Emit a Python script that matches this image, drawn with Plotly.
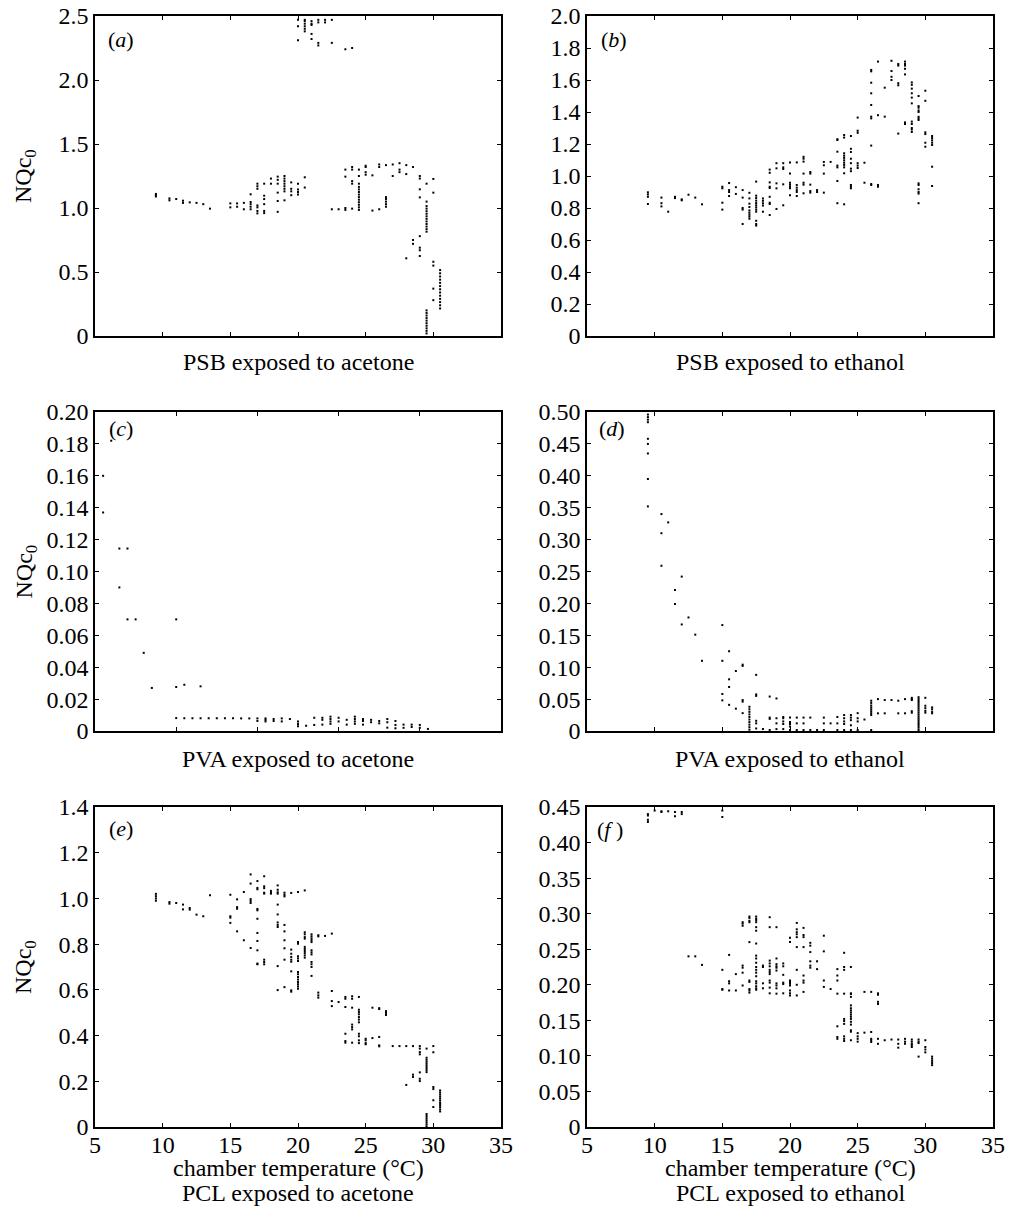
import plotly.graph_objects as go

# ---------------------------------------------------------------------------
# Measured NQc0 against chamber temperature (deg C), one list of
# (temperature, [NQc0 values]) columns per polymer / solvent pair.
# ---------------------------------------------------------------------------
PSB_ACETONE = [
    (9.5, [1.09, 1.10, 1.11]),
    (10.5, [1.06, 1.075]),
    (11.0, [1.07]),
    (11.5, [1.04, 1.057]),
    (12.0, [1.044]),
    (12.5, [1.04]),
    (13.0, [1.03]),
    (13.5, [0.995]),
    (15.0, [1.005, 1.036]),
    (15.5, [1.01, 1.036]),
    (16.0, [0.99, 1.04]),
    (16.5, [0.99, 1.01, 1.03, 1.047, 1.107]),
    (17.0, [0.958, 0.977, 1.005, 1.02, 1.15, 1.17, 1.19]),
    (17.5, [0.96, 0.977, 1.03, 1.07, 1.096, 1.19]),
    (18.0, [1.19, 1.23]),
    (18.5, [0.97, 1.055, 1.12, 1.19, 1.22, 1.245]),
    (19.0, [1.06, 1.13, 1.15, 1.17, 1.19, 1.21, 1.23, 1.25]),
    (19.5, [1.10, 1.13, 1.15, 1.20]),
    (20.0, [1.105, 1.125, 1.145, 1.19, 2.31, 2.42, 2.47]),
    (20.5, [1.16, 1.24, 2.38, 2.40, 2.42, 2.44, 2.46, 2.47]),
    (21.0, [2.32, 2.36, 2.43, 2.44, 2.46]),
    (21.5, [2.27, 2.29, 2.45, 2.47]),
    (22.0, [2.45, 2.47]),
    (22.5, [0.99, 2.29, 2.47]),
    (23.0, [0.99]),
    (23.5, [0.985, 1.0, 1.245, 1.30, 2.24]),
    (24.0, [0.995, 1.19, 1.21, 1.30, 1.32, 2.25]),
    (24.5, [0.985, 1.005, 1.025, 1.045, 1.065, 1.085, 1.105, 1.125, 1.145,
            1.165, 1.19, 1.25, 1.30]),
    (25.0, [1.26, 1.28, 1.32, 1.33]),
    (25.5, [0.98, 1.255]),
    (26.0, [0.99, 1.32, 1.34]),
    (26.5, [1.01, 1.03, 1.05, 1.07, 1.085, 1.335]),
    (27.0, [1.25, 1.34]),
    (27.5, [1.28, 1.30, 1.35]),
    (28.0, [0.607, 1.265, 1.335]),
    (28.5, [0.72, 0.75, 1.32]),
    (29.0, [0.625, 0.67, 0.69, 0.78, 1.083, 1.146, 1.23, 1.25]),
    (29.5, [0.02, 0.04, 0.06, 0.08, 0.10, 0.12, 0.14, 0.16, 0.18, 0.20,
            0.815, 0.835, 0.855, 0.875, 0.895, 0.915, 0.935, 0.955, 0.975,
            0.995, 1.015, 1.05, 1.19]),
    (30.0, [0.28, 0.37, 0.55, 0.58, 1.12, 1.227]),
    (30.5, [0.215, 0.24, 0.265, 0.29, 0.315, 0.34, 0.365, 0.39, 0.415,
            0.44, 0.465, 0.49, 0.515]),
]

PSB_ETHANOL = [
    (9.5, [0.825, 0.87, 0.885, 0.898]),
    (10.5, [0.81, 0.83, 0.865]),
    (11.0, [0.777]),
    (11.5, [0.862, 0.87]),
    (12.0, [0.848, 0.854]),
    (12.5, [0.883]),
    (13.0, [0.865]),
    (13.5, [0.823]),
    (15.0, [0.79, 0.833, 0.923, 0.933]),
    (15.5, [0.875, 0.90, 0.912, 0.956]),
    (16.0, [0.888, 0.93]),
    (16.5, [0.70, 0.79, 0.80, 0.865, 0.912]),
    (17.0, [0.733, 0.746, 0.758, 0.771, 0.785, 0.806, 0.827, 0.86, 0.895]),
    (17.5, [0.69, 0.70, 0.72, 0.777, 0.79, 0.804, 0.817, 0.831, 0.846,
            0.862, 0.877, 0.965]),
    (18.0, [0.777, 0.815, 0.83, 0.845, 0.86]),
    (18.5, [0.756, 0.825, 0.833, 0.87, 0.925, 0.933, 0.96, 1.02, 1.04]),
    (19.0, [0.794, 0.923, 0.954, 1.048, 1.08]),
    (19.5, [0.817, 0.948, 1.044, 1.054, 1.08]),
    (20.0, [0.88, 0.923, 0.933, 0.946, 0.958, 1.015, 1.085]),
    (20.5, [0.875, 0.90, 0.912, 0.927, 0.944, 1.085]),
    (21.0, [0.892, 0.946, 0.958, 1.015, 1.09, 1.108, 1.12]),
    (21.5, [0.896, 0.906, 0.946, 1.015, 1.025]),
    (22.0, [0.90, 0.912]),
    (22.5, [0.896, 1.015, 1.067, 1.088]),
    (23.0, [1.088]),
    (23.5, [0.83, 0.969, 1.054, 1.065, 1.152, 1.225, 1.23]),
    (24.0, [0.823, 1.017, 1.054, 1.069, 1.083, 1.098, 1.113, 1.127, 1.142,
            1.24, 1.256]),
    (24.5, [0.923, 0.933, 0.944, 1.03, 1.046, 1.08, 1.108, 1.15, 1.17, 1.25]),
    (25.0, [1.05, 1.065, 1.08, 1.27, 1.283, 1.365]),
    (25.5, [0.958, 1.083]),
    (26.0, [0.944, 0.95, 1.19, 1.36, 1.371, 1.444, 1.517, 1.583, 1.654, 1.663]),
    (26.5, [0.933, 0.944, 1.38, 1.715]),
    (27.0, [1.371, 1.552]),
    (27.5, [1.60, 1.62, 1.656, 1.72]),
    (28.0, [1.265, 1.567, 1.58, 1.69, 1.70]),
    (28.5, [1.325, 1.335, 1.635, 1.67, 1.69, 1.70, 1.715]),
    (29.0, [1.275, 1.29, 1.30, 1.325, 1.34, 1.454, 1.49, 1.517, 1.546,
            1.57, 1.585]),
    (29.5, [0.83, 0.89, 0.90, 0.917, 0.944, 0.954, 1.35, 1.36, 1.37, 1.40,
            1.41, 1.427, 1.437, 1.50]),
    (30.0, [1.183, 1.208, 1.262, 1.273, 1.47, 1.533]),
    (30.5, [0.9375, 1.058, 1.194, 1.208, 1.223, 1.237, 1.25]),
]

PVA_ACETONE = [
    (5.5, [0.137, 0.160]),
    (6.0, [0.182]),
    (6.5, [0.090, 0.1144]),
    (7.0, [0.070, 0.1144]),
    (7.5, [0.070]),
    (8.0, [0.049]),
    (8.5, [0.027]),
    (10.0, [0.0081, 0.0276, 0.070]),
    (10.5, [0.008, 0.029]),
    (11.0, [0.008]),
    (11.5, [0.008, 0.028]),
    (12.0, [0.008]),
    (12.5, [0.008]),
    (13.0, [0.008]),
    (13.5, [0.008]),
    (14.0, [0.0079]),
    (14.5, [0.0079]),
    (15.0, [0.0063, 0.0079]),
    (15.5, [0.006, 0.007, 0.0079]),
    (16.0, [0.0063, 0.0075]),
    (16.5, [0.006, 0.0079]),
    (17.0, [0.0075]),
    (17.5, [0.003, 0.0044, 0.006]),
    (18.0, [0.0033]),
    (18.5, [0.0038, 0.0083]),
    (19.0, [0.004, 0.007, 0.0083]),
    (19.5, [0.0045, 0.006, 0.0075, 0.009]),
    (20.0, [0.006, 0.0083]),
    (20.5, [0.004, 0.007]),
    (21.0, [0.0045, 0.006, 0.0075, 0.009]),
    (21.5, [0.004, 0.0063, 0.0075]),
    (22.0, [0.0055, 0.007]),
    (22.5, [0.0048, 0.0063]),
    (23.0, [0.0021, 0.0055, 0.0075]),
    (23.5, [0.0017, 0.0038, 0.0063]),
    (24.0, [0.002, 0.004]),
    (24.5, [0.0025, 0.004]),
    (25.0, [0.002, 0.0038]),
    (25.5, [0.0013]),
]

PVA_ETHANOL = [
    (9.5, [0.352, 0.395, 0.435, 0.45, 0.458, 0.484, 0.488, 0.492, 0.496]),
    (10.5, [0.259, 0.31, 0.34]),
    (11.0, [0.327]),
    (11.5, [0.199, 0.221]),
    (12.0, [0.167, 0.242]),
    (12.5, [0.178]),
    (13.0, [0.151]),
    (13.5, [0.110]),
    (15.0, [0.048, 0.058, 0.110, 0.166]),
    (15.5, [0.041, 0.069, 0.081, 0.125]),
    (16.0, [0.035, 0.094]),
    (16.5, [0.028, 0.046, 0.0485, 0.102, 0.104]),
    (17.0, [0.002, 0.006, 0.01, 0.014, 0.018, 0.022, 0.026, 0.03, 0.034, 0.038]),
    (17.5, [0.004, 0.012, 0.016, 0.055, 0.0574, 0.088]),
    (18.0, [0.003]),
    (18.5, [0.0016, 0.019, 0.021, 0.054]),
    (19.0, [0.003, 0.012, 0.020, 0.051]),
    (19.5, [0.003, 0.011, 0.015, 0.020, 0.022]),
    (20.0, [0.0016, 0.007, 0.011, 0.014, 0.021]),
    (20.5, [0.0016, 0.012, 0.021]),
    (21.0, [0.0016, 0.012, 0.021]),
    (21.5, [0.0016, 0.021]),
    (22.0, [0.0016]),
    (22.5, [0.0016, 0.012, 0.021]),
    (23.0, [0.012]),
    (23.5, [0.0016, 0.012, 0.022]),
    (24.0, [0.0016, 0.011, 0.015, 0.020, 0.025]),
    (24.5, [0.0016, 0.009, 0.017, 0.021, 0.025]),
    (25.0, [0.0016, 0.015, 0.020, 0.028]),
    (25.5, [0.018]),
    (26.0, [0.0016, 0.025, 0.028, 0.031, 0.034, 0.037, 0.040, 0.044, 0.0475]),
    (26.5, [0.0277, 0.050]),
    (27.0, [0.0277, 0.0485]),
    (27.5, [0.0485]),
    (28.0, [0.0277, 0.0475]),
    (28.5, [0.0277, 0.050]),
    (29.0, [0.0287, 0.031, 0.0485, 0.050, 0.052]),
    (29.5, [0.0016, 0.005, 0.008, 0.011, 0.014, 0.017, 0.02, 0.023, 0.026,
            0.029, 0.032, 0.035, 0.038, 0.041, 0.044, 0.047, 0.050, 0.053]),
    (30.0, [0.0287, 0.0316, 0.0358, 0.0396, 0.052]),
    (30.5, [0.0277, 0.030, 0.034, 0.037]),
]

PCL_ACETONE = [
    (9.5, [0.99, 1.0, 1.01, 1.02]),
    (10.5, [0.977, 0.984]),
    (11.0, [0.98]),
    (11.5, [0.952, 0.973]),
    (12.0, [0.951, 0.958]),
    (12.5, [0.929]),
    (13.0, [0.922]),
    (13.5, [1.014]),
    (15.0, [0.893, 0.916, 0.922, 1.016]),
    (15.5, [0.856, 0.955, 0.962, 0.996]),
    (16.0, [0.817, 1.028]),
    (16.5, [0.783, 0.98, 0.989, 0.997, 1.065, 1.105]),
    (17.0, [0.712, 0.715, 0.773, 0.814, 0.849, 0.911, 0.948, 0.954, 1.04,
            1.046, 1.076]),
    (17.5, [0.712, 0.722, 0.732, 1.021, 1.025, 1.045, 1.053, 1.097]),
    (18.0, [1.021, 1.025, 1.033]),
    (18.5, [0.599, 0.704, 0.875, 0.884, 0.895, 0.93, 0.973, 1.021, 1.027,
            1.038, 1.057]),
    (19.0, [0.612, 0.732, 0.782, 0.817, 0.856, 0.884, 1.009, 1.016, 1.025]),
    (19.5, [0.592, 0.598, 0.681, 0.723, 0.732, 0.744, 0.758, 0.776, 1.024]),
    (20.0, [0.605, 0.615, 0.624, 0.634, 0.645, 0.656, 0.668, 0.678, 0.726,
            0.737, 0.747, 0.802, 0.809, 1.028]),
    (20.5, [0.741, 0.751, 0.761, 0.77, 0.779, 0.788, 0.824, 0.831, 0.843,
            0.852, 1.035]),
    (21.0, [0.661, 0.70, 0.712, 0.722, 0.755, 0.764, 0.773, 0.809, 0.817,
            0.825, 0.834, 0.843]),
    (21.5, [0.566, 0.576, 0.588, 0.834, 0.839]),
    (22.0, [0.836]),
    (22.5, [0.529, 0.551, 0.595, 0.846]),
    (23.0, [0.547]),
    (23.5, [0.369, 0.376, 0.408, 0.525, 0.561, 0.569]),
    (24.0, [0.369, 0.427, 0.437, 0.448, 0.522, 0.561, 0.572]),
    (24.5, [0.367, 0.379, 0.397, 0.408, 0.458, 0.47, 0.481, 0.493, 0.503,
            0.513, 0.569]),
    (25.0, [0.362, 0.367, 0.379, 0.386]),
    (25.5, [0.389, 0.522]),
    (26.0, [0.353, 0.357, 0.394, 0.516, 0.52]),
    (26.5, [0.49, 0.499, 0.507]),
    (27.0, [0.354]),
    (27.5, [0.354]),
    (28.0, [0.184, 0.354]),
    (28.5, [0.219, 0.229, 0.354]),
    (29.0, [0.201, 0.211, 0.239, 0.318, 0.328, 0.343, 0.354]),
    (29.5, [0.003, 0.012, 0.021, 0.03, 0.039, 0.048, 0.057, 0.24, 0.249,
            0.258, 0.267, 0.276, 0.285, 0.294, 0.303, 0.343]),
    (30.0, [0.0875, 0.117, 0.166, 0.175, 0.327, 0.354]),
    (30.5, [0.068, 0.077, 0.087, 0.096, 0.105, 0.115, 0.124, 0.133, 0.142,
            0.151, 0.16]),
]

PCL_ETHANOL = [
    (9.5, [0.429, 0.432, 0.438, 0.44]),
    (10.0, [0.445]),
    (10.5, [0.443, 0.444]),
    (11.0, [0.444]),
    (11.5, [0.437, 0.443]),
    (12.0, [0.44, 0.443]),
    (12.5, [0.240]),
    (13.0, [0.240]),
    (13.5, [0.228]),
    (15.0, [0.193, 0.194, 0.221, 0.436, 0.445]),
    (15.5, [0.192, 0.202, 0.205, 0.242]),
    (16.0, [0.192, 0.215]),
    (16.5, [0.199, 0.217, 0.224, 0.227, 0.283, 0.286, 0.288]),
    (17.0, [0.189, 0.192, 0.194, 0.204, 0.206, 0.26, 0.288, 0.29, 0.294, 0.296]),
    (17.5, [0.193, 0.195, 0.198, 0.202, 0.205, 0.212, 0.217, 0.221, 0.225,
            0.231, 0.237, 0.241, 0.258, 0.276, 0.281, 0.288, 0.291, 0.293,
            0.296]),
    (18.0, [0.195, 0.202, 0.225, 0.227]),
    (18.5, [0.188, 0.196, 0.203, 0.206, 0.215, 0.218, 0.221, 0.226, 0.23,
            0.234, 0.281, 0.295]),
    (19.0, [0.1875, 0.195, 0.199, 0.202, 0.22, 0.224, 0.226, 0.229, 0.237,
            0.281]),
    (19.5, [0.188, 0.201, 0.203, 0.214, 0.226, 0.23]),
    (20.0, [0.185, 0.188, 0.192, 0.199, 0.2016, 0.204, 0.206, 0.26, 0.266]),
    (20.5, [0.185, 0.2, 0.221, 0.253, 0.267, 0.271, 0.274, 0.278, 0.287]),
    (21.0, [0.19, 0.203, 0.206, 0.213, 0.253, 0.267, 0.27, 0.28]),
    (21.5, [0.224, 0.227, 0.233, 0.246, 0.255, 0.259]),
    (22.0, [0.222, 0.233]),
    (22.5, [0.197, 0.206, 0.247, 0.269]),
    (23.0, [0.194]),
    (23.5, [0.124, 0.1266, 0.1416, 0.1875, 0.206, 0.213, 0.222]),
    (24.0, [0.121, 0.124, 0.1275, 0.145, 0.149, 0.152, 0.1875, 0.221, 0.225,
            0.245]),
    (24.5, [0.122, 0.134, 0.136, 0.144, 0.148, 0.152, 0.155, 0.158, 0.161,
            0.164, 0.167, 0.171, 0.183, 0.187, 0.188, 0.225]),
    (25.0, [0.12, 0.124, 0.1275, 0.132]),
    (25.5, [0.1327, 0.19]),
    (26.0, [0.1195, 0.122, 0.124, 0.1336, 0.19]),
    (26.5, [0.117, 0.124, 0.173, 0.176, 0.186, 0.188]),
    (27.0, [0.122]),
    (27.5, [0.123]),
    (28.0, [0.1116, 0.117, 0.123]),
    (28.5, [0.117, 0.12, 0.124]),
    (29.0, [0.1125, 0.115, 0.117, 0.12, 0.123]),
    (29.5, [0.099, 0.118, 0.12, 0.123]),
    (30.0, [0.105, 0.109, 0.1125, 0.122]),
    (30.5, [0.087, 0.09, 0.093, 0.096, 0.099]),
]

# Axis ticks and their printed labels
TEMP_TICKS = [5, 10, 15, 20, 25, 30, 35]
TEMP_LABELS = ["5", "10", "15", "20", "25", "30", "35"]
PVA_ACETONE_TEMP_TICKS = [5, 10, 15, 20, 25, 30]

A_TICKS = [0, 0.5, 1.0, 1.5, 2.0, 2.5]
A_LABELS = ["0", "0.5", "1.0", "1.5", "2.0", "2.5"]
B_TICKS = [0, 0.2, 0.4, 0.6, 0.8, 1.0, 1.2, 1.4, 1.6, 1.8, 2.0]
B_LABELS = ["0", "0.2", "0.4", "0.6", "0.8", "1.0", "1.2", "1.4", "1.6", "1.8", "2.0"]
C_TICKS = [0, 0.02, 0.04, 0.06, 0.08, 0.10, 0.12, 0.14, 0.16, 0.18, 0.20]
C_LABELS = ["0", "0.02", "0.04", "0.06", "0.08", "0.10", "0.12", "0.14", "0.16", "0.18", "0.20"]
D_TICKS = [0, 0.05, 0.10, 0.15, 0.20, 0.25, 0.30, 0.35, 0.40, 0.45, 0.50]
D_LABELS = ["0", "0.05", "0.10", "0.15", "0.20", "0.25", "0.30", "0.35", "0.40", "0.45", "0.50"]
E_TICKS = [0, 0.2, 0.4, 0.6, 0.8, 1.0, 1.2, 1.4]
E_LABELS = ["0", "0.2", "0.4", "0.6", "0.8", "1.0", "1.2", "1.4"]
F_TICKS = [0, 0.05, 0.10, 0.15, 0.20, 0.25, 0.30, 0.35, 0.40, 0.45]
F_LABELS = ["0", "0.05", "0.10", "0.15", "0.20", "0.25", "0.30", "0.35", "0.40", "0.45"]

CAPTIONS = ["PSB exposed to acetone", "PSB exposed to ethanol",
            "PVA exposed to acetone", "PVA exposed to ethanol",
            "PCL exposed to acetone", "PCL exposed to ethanol"]
TAGS = ["(<i>a</i>)", "(<i>b</i>)", "(<i>c</i>)",
        "(<i>d</i>)", "(<i>e</i>)", "(<i>f</i> )"]
Y_TITLE = "NQc<sub>0</sub>"
X_TITLE = "chamber temperature (°C)"

# ---------------------------------------------------------------------------
# Page geometry (pixels) and styling
# ---------------------------------------------------------------------------
W, H = 1012, 1223
FONT = "Liberation Serif"
TICK_SIZE = 24
TEXT_SIZE = 24

# frame boxes: left, top, right, bottom
BOXES = [(95, 16, 501, 336), (587, 16, 993, 336),
         (95, 412, 501, 731), (587, 412, 993, 731),
         (95, 807, 501, 1127), (587, 807, 993, 1127)]
TAG_OFFSETS = [(11, 23), (12, 23), (12, 16), (10, 16), (12, 21), (8, 22)]
CAPTION_Y = [362, 362, 759, 759, 1193, 1193]
X_TITLE_Y = 1168
Y_TITLE_X = 25
X_LABEL_STANDOFF = -5


def px_x(p):
    return p / W


def px_y(p):
    return 1 - p / H


def flatten(columns):
    xs, ys = [], []
    for t, vals in columns:
        for v in vals:
            xs.append(t)
            ys.append(v)
    return xs, ys


panels = [
    (PSB_ACETONE, A_TICKS, A_LABELS, TEMP_TICKS),
    (PSB_ETHANOL, B_TICKS, B_LABELS, TEMP_TICKS),
    (PVA_ACETONE, C_TICKS, C_LABELS, PVA_ACETONE_TEMP_TICKS),
    (PVA_ETHANOL, D_TICKS, D_LABELS, TEMP_TICKS),
    (PCL_ACETONE, E_TICKS, E_LABELS, TEMP_TICKS),
    (PCL_ETHANOL, F_TICKS, F_LABELS, TEMP_TICKS),
]

tick_font = dict(family=FONT, size=TICK_SIZE, color="black")
text_font = dict(family=FONT, size=TEXT_SIZE, color="black")


def axis_style():
    return dict(
        showline=True, linecolor="black", linewidth=1.6, mirror="ticks",
        ticks="inside", ticklen=4, tickwidth=1, tickcolor="black",
        showgrid=False, zeroline=False, fixedrange=True, automargin=False,
        tickfont=dict(tick_font),
    )


fig = go.Figure()
annotations = []
axes = {}

for i, (cols, yt, yl, xt) in enumerate(panels):
    n = i + 1
    xs, ys = flatten(cols)
    suffix = "" if n == 1 else str(n)
    fig.add_trace(go.Scatter(
        x=xs, y=ys, mode="markers",
        marker=dict(symbol="square", size=2, color="black", line=dict(width=0)),
        xaxis="x" + suffix, yaxis="y" + suffix,
        showlegend=False, hoverinfo="x+y",
    ))
    left, top, right, bottom = BOXES[i]
    bottom_row = n >= 5
    xa = axis_style()
    xa.update(
        domain=[px_x(left), px_x(right)],
        anchor="y" + suffix,
        range=[xt[0], xt[-1]],
        tickmode="array",
        tickvals=xt,
        ticktext=TEMP_LABELS[:len(xt)],
        showticklabels=bottom_row,
    )
    if bottom_row:
        xa["ticklabelstandoff"] = X_LABEL_STANDOFF
    ya = axis_style()
    ya.update(
        domain=[px_y(bottom), px_y(top)],
        anchor="x" + suffix,
        range=[yt[0], yt[-1]],
        tickmode="array",
        tickvals=yt,
        ticktext=yl,
    )
    axes["xaxis" + suffix] = xa
    axes["yaxis" + suffix] = ya

    cx = px_x((left + right) / 2)
    dx, dy = TAG_OFFSETS[i]
    # panel tag, e.g. (a)
    annotations.append(dict(
        text=TAGS[i], xref="paper", yref="paper",
        x=px_x(left + dx), y=px_y(top + dy), xanchor="left", yanchor="middle",
        showarrow=False, font=dict(family=FONT, size=TEXT_SIZE - 2, color="black"),
    ))
    # caption under each panel
    annotations.append(dict(
        text=CAPTIONS[i], xref="paper", yref="paper",
        x=cx, y=px_y(CAPTION_Y[i]), xanchor="center", yanchor="middle",
        showarrow=False, font=text_font,
    ))
    if bottom_row:
        annotations.append(dict(
            text=X_TITLE, xref="paper", yref="paper",
            x=cx, y=px_y(X_TITLE_Y), xanchor="center", yanchor="middle",
            showarrow=False, font=text_font,
        ))
    if n % 2 == 1:
        annotations.append(dict(
            text=Y_TITLE, xref="paper", yref="paper", textangle=-90,
            x=px_x(Y_TITLE_X), y=px_y((top + bottom) / 2),
            xanchor="center", yanchor="middle",
            showarrow=False, font=text_font,
        ))

fig.update_layout(
    template="none",
    width=W, height=H, autosize=False,
    margin=dict(l=0, r=0, t=0, b=0, pad=0, autoexpand=False),
    paper_bgcolor="white", plot_bgcolor="white",
    font=dict(family=FONT, size=TICK_SIZE, color="black"),
    annotations=annotations,
    showlegend=False,
    **axes,
)

fig.write_html("out.html", config={"displayModeBar": False})
